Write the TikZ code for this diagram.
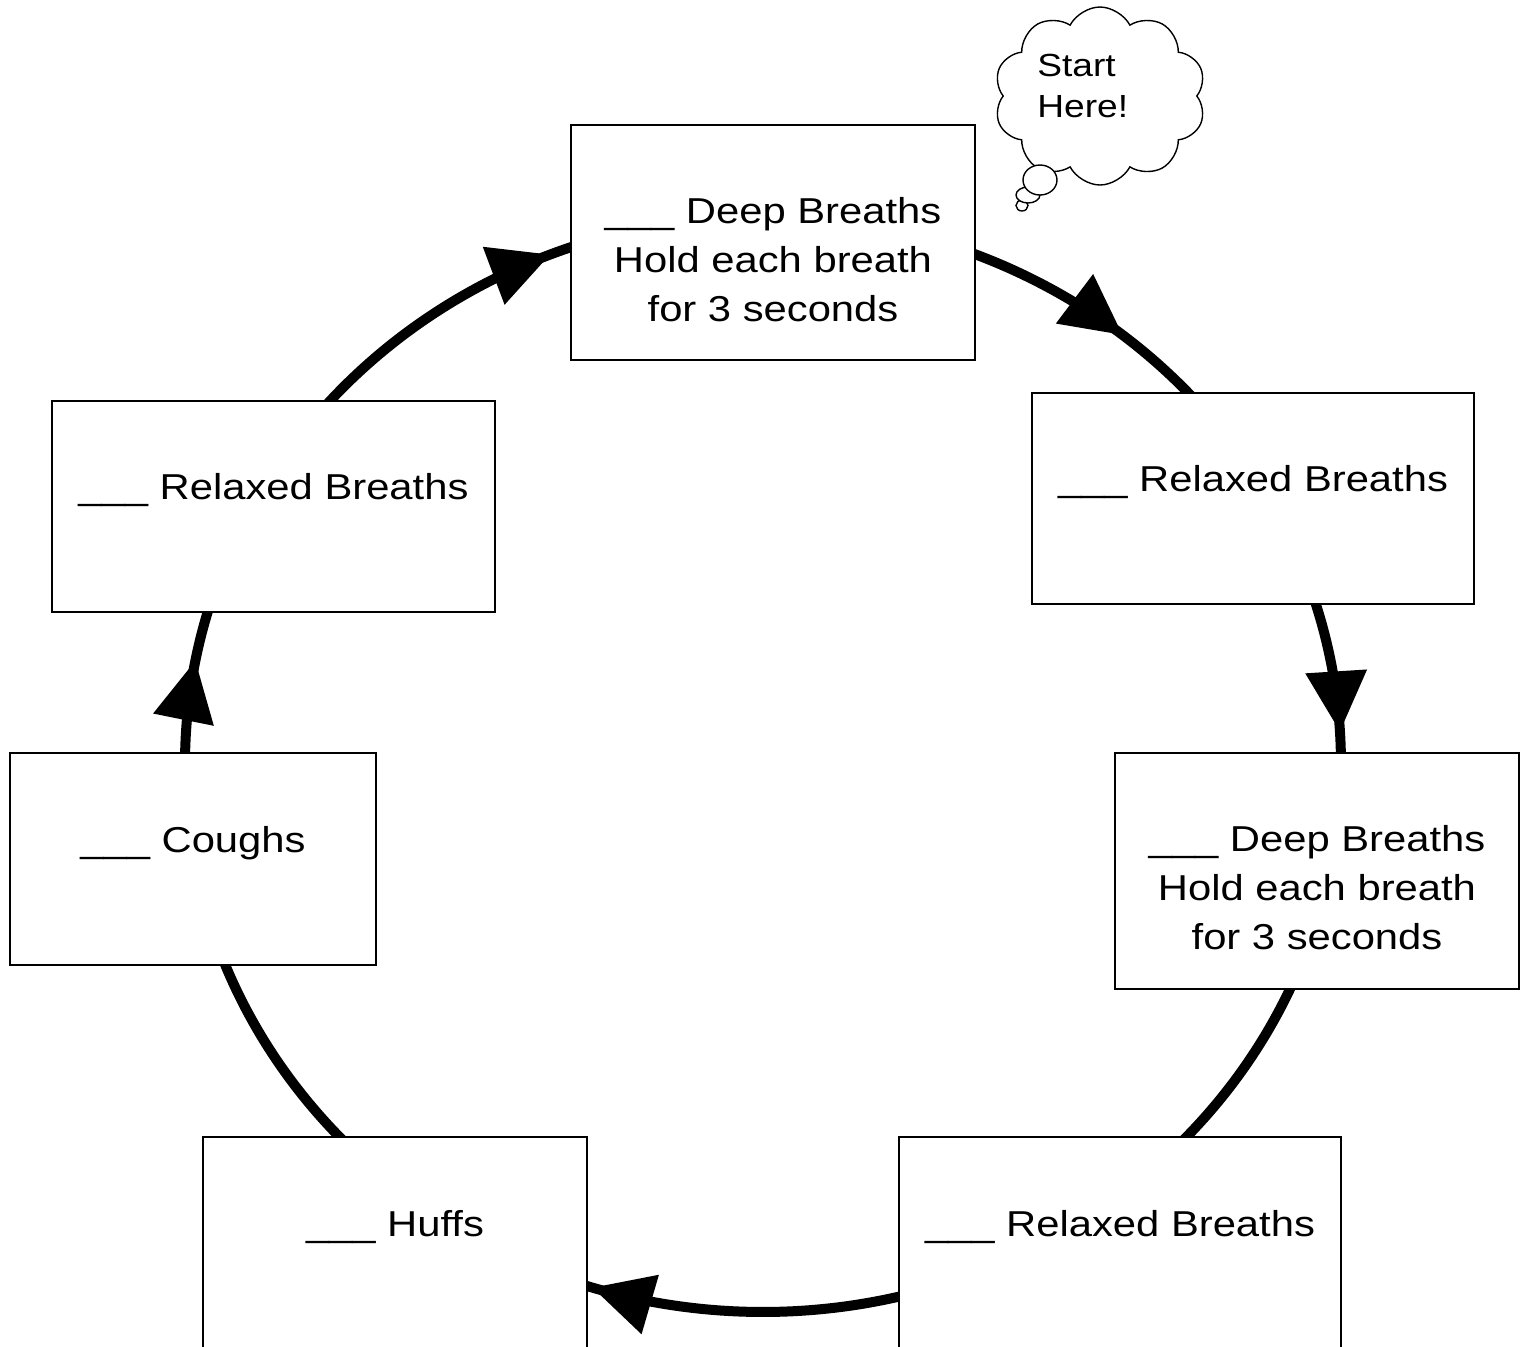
\documentclass[tikz,border=0pt]{standalone}
\usepackage{fontspec}
\setmainfont{Liberation Sans}[FakeStretch=1.16]
\usetikzlibrary{arrows.meta,decorations.markings,shapes.symbols,calc}
\begin{document}
\begin{tikzpicture}[x=0.5pt,y=-0.5pt,
  box/.style={draw, line width=1pt, fill=white, inner sep=0pt},
  lbl/.style={inner sep=0pt, anchor=north, align=center, font=\fontsize{18}{24.5}\selectfont},
  flow/.style={line width=5pt},
  ring/.style={x radius=578, y radius=548},
  tipmark/.style={postaction={decorate, decoration={markings,
     mark=at position #1 with {\arrow{Triangle[length=30pt,width=31pt,line width=0pt]}}}}},
  thought/.style={draw, line width=0.7pt, fill=white},
]
\useasboundingbox (0,0) rectangle (1528,1346);
\begin{scope}
\clip (0,0) rectangle (1528,1346);
\coordinate (C) at (763,764);
% connectors along the ring
\draw[flow, tipmark=0.64] ($(C)+(271:578 and 548)$) arc[ring, start angle=271, end angle=330];
\draw[flow, tipmark=0.64] ($(C)+(330:578 and 548)$) arc[ring, start angle=330, end angle=371.6];
\draw[flow] ($(C)+(11.6:578 and 548)$) arc[ring, start angle=11.6, end angle=54.6];
\draw[flow, tipmark=0.737] ($(C)+(54.6:578 and 548)$) arc[ring, start angle=54.6, end angle=126];
\draw[flow] ($(C)+(126:578 and 548)$) arc[ring, start angle=126, end angle=170];
\draw[flow, tipmark=0.533] ($(C)+(170:578 and 548)$) arc[ring, start angle=170, end angle=209];
\draw[flow, tipmark=0.63] ($(C)+(209:578 and 548)$) arc[ring, start angle=209, end angle=271];
% boxes
\node[box, minimum width=202pt, minimum height=117.5pt] (b1) at (773,242.5) {};
\node[box, minimum width=221pt, minimum height=105.5pt] (b2) at (1253,498.5) {};
\node[box, minimum width=202pt, minimum height=118pt] (b3) at (1317,871) {};
\node[box, minimum width=221pt, minimum height=120pt] (b4) at (1120,1257) {};
\node[box, minimum width=192pt, minimum height=120pt] (b5) at (395,1257) {};
\node[box, minimum width=183pt, minimum height=106pt] (b6) at (193,859) {};
\node[box, minimum width=221.5pt, minimum height=105.5pt] (b7) at (273.5,506.5) {};
% labels
\node[lbl] (t1) at (773,197) {\_\_\_ Deep Breaths\\Hold each breath\\for 3 seconds};
\node[lbl] (t2) at (1253,465) {\_\_\_ Relaxed Breaths};
\node[lbl] (t3) at (1317,825) {\_\_\_ Deep Breaths\\Hold each breath\\for 3 seconds};
\node[lbl] (t4) at (1120,1210) {\_\_\_ Relaxed Breaths};
\node[lbl] (t5) at (395,1210) {\_\_\_ Huffs};
\node[lbl] (t6) at (193,826) {\_\_\_ Coughs};
\node[lbl] (t7) at (273.5,473) {\_\_\_ Relaxed Breaths};
% thought cloud
\node[cloud, draw, line width=0.7pt, cloud puffs=10, cloud puff arc=125, aspect=1.15,
      minimum width=106pt, minimum height=89pt, inner sep=0pt] (cloud) at (1100,96) {};
\draw[thought] (1022,205.5) ellipse [x radius=6, y radius=5.5];
\draw[thought] (1028,195) ellipse [x radius=12, y radius=8];
\draw[thought] (1040,180) ellipse [x radius=17, y radius=15];
\node[inner sep=0pt, anchor=north west, align=left, font=\fontsize{16}{20.5}\selectfont] (start) at (1037,54) {Start\\Here!};
\end{scope}
\end{tikzpicture}
\end{document}
